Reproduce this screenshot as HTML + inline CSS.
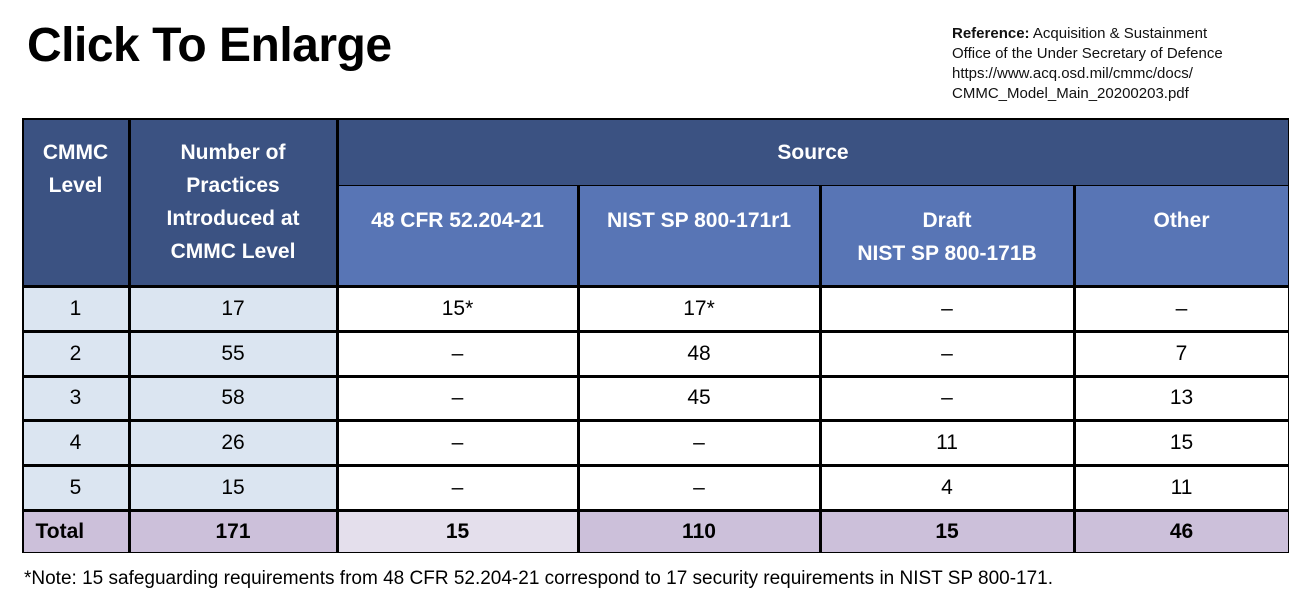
<!DOCTYPE html>
<html><head><meta charset="utf-8"><style>
body{margin:0;width:1313px;height:600px;background:#fff;overflow:hidden;font-family:"Liberation Sans",sans-serif;position:relative}
.c{position:absolute;display:flex;align-items:center;justify-content:center;text-align:center;font-size:21px;color:#000;box-sizing:border-box}
.h{color:#fff;font-weight:bold;line-height:33px}
.d{background:#3b5282}.m{background:#5875b5}.lb{background:#dbe5f1}.w{background:#fff}.p{background:#ccc0da}.pl{background:#e4dfec}
.t{font-weight:bold}
</style></head><body>
<div style="position:absolute;left:27px;top:18px;font-size:48px;font-weight:bold;letter-spacing:-0.5px">Click To Enlarge</div>
<div style="position:absolute;left:952px;top:24px;font-size:15px;line-height:20px;color:#111"><b>Reference:</b> Acquisition &amp; Sustainment<br>Office of the Under Secretary of Defence<br>https://www.acq.osd.mil/cmmc/docs/<br>CMMC_Model_Main_20200203.pdf</div>
<div style="position:absolute;left:22px;top:118px;width:1267px;height:435px;background:#000"></div>
<div id="tbl"></div>
<div style="position:absolute;left:24px;top:568px;font-size:19px">*Note: 15 safeguarding requirements from 48 CFR 52.204-21 correspond to 17 security requirements in NIST SP 800-171.</div>
<script>
const colX=[22,129,337,578,820,1074,1289];
const rowY=[286,331,376,420,465,510,553];
const levels=["1","2","3","4","5"];
const practices=["17","55","58","26","15"];
const cfr=["15*","–","–","–","–"];
const nist=["17*","48","45","–","–"];
const draft=["–","–","–","11","4"];
const other=["–","7","13","15","11"];
const totals=["Total","171","15","110","15","46"];
const root=document.getElementById('tbl');
function cell(x0,x1,y0,y1,cls,html,name){
  const e=document.createElement('div');
  e.className='c '+cls;
  e.style.left=(x0+1.5)+'px';e.style.top=(y0+1.5)+'px';
  e.style.width=(x1-x0-3)+'px';e.style.height=(y1-y0-3)+'px';
  e.innerHTML=html;
  
  
  root.appendChild(e);return e;
}
const h1=cell(colX[0],colX[1],118,286,'h d','CMMC<br>Level','header-cmmc-level');h1.style.alignItems='flex-start';h1.style.paddingTop='16px';
const h2=cell(colX[1],colX[2],118,286,'h d','Number of<br>Practices<br>Introduced at<br>CMMC Level','header-practices');h2.style.alignItems='flex-start';h2.style.paddingTop='16px';
cell(colX[2],colX[6],118,186,'h d','Source','header-source');
const sub=["48 CFR 52.204-21","NIST SP 800-171r1","Draft<br>NIST SP 800-171B","Other"];
for(let i=0;i<4;i++){const e=cell(colX[2+i],colX[3+i],184,286,'h m',sub[i],'header-source-col');e.style.alignItems='flex-start';e.style.paddingTop='18px';}
const cols=[levels,practices,cfr,nist,draft,other];
for(let r=0;r<5;r++){for(let c=0;c<6;c++){cell(colX[c],colX[c+1],rowY[r],rowY[r+1],c<2?'lb':'w',cols[c][r],'cell-r'+(r+1)+'-c'+(c+1));}}
for(let c=0;c<6;c++){const e=cell(colX[c],colX[c+1],rowY[5],rowY[6],'t '+(c==2?'pl':'p'),totals[c],'total-c'+(c+1));if(c==0){e.style.justifyContent='flex-start';e.style.paddingLeft='12px';}}
</script>
</body></html>
